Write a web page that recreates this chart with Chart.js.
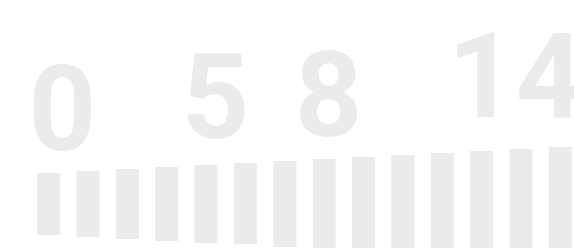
<!DOCTYPE html>
<html>
<head>
<meta charset="utf-8">
<script src="https://cdn.jsdelivr.net/npm/chart.js@4"></script>
<style>
  html, body { margin: 0; padding: 0; background: #fff; overflow: hidden; }
  #wrap { width: 574px; height: 248px; overflow: hidden; }
</style>
</head>
<body>
<div id="wrap"><canvas id="barsChart" width="580" height="248"></canvas></div>
<script>
const categories = ['1', '2', '3', '4', '5', '6', '7', '8', '9', '10', '11', '12', '13', '14'];
const barLow = [5.2, 4.4, 3.6, 2.8, 2.0, 1.6, 0.4, -0.4, -1.2, -2.0, -2.8, -3.6, -4.4, -5.2];
const barHigh = [30.2, 31.0, 31.9, 32.7, 33.5, 34.3, 35.1, 35.9, 36.7, 37.5, 38.3, 39.1, 39.9, 40.7];
const bigLabels = ['0', '5', '8', '14'];

const barData = categories.map((c, i) => [barLow[i], barHigh[i]]);

// big numbers drawn above the bars
const bigNumbers = {
  id: 'bigNumbers',
  afterDatasetsDraw(chart, args, opts) {
    const { ctx, scales: { x, y } } = chart;
    ctx.save();
    ctx.fillStyle = opts.color;
    ctx.font = opts.font;
    ctx.textAlign = 'center';
    ctx.textBaseline = 'alphabetic';
    bigLabels.forEach((t, i) => {
      const p = opts.positions[i];
      ctx.fillText(t, x.getPixelForValue(p[0]), y.getPixelForValue(p[1]));
    });
    ctx.restore();
  }
};

const ctx = document.getElementById('barsChart').getContext('2d');
new Chart(ctx, {
  type: 'bar',
  data: {
    labels: categories,
    datasets: [{
      data: barData,
      backgroundColor: '#ebebeb',
      borderWidth: 0,
      categoryPercentage: 1,
      barPercentage: 0.585
    }]
  },
  options: {
    responsive: false,
    animation: false,
    devicePixelRatio: 1,
    layout: { padding: { left: 29, right: 0, top: 0, bottom: 0 } },
    scales: {
      x: { display: false },
      y: { display: false, min: 0, max: 100 }
    },
    plugins: {
      legend: { display: false },
      tooltip: { enabled: false },
      title: { display: false },
      bigNumbers: {
        color: '#ebebeb',
        font: 'bold 118px Roboto',
        positions: [[0.35, 39.5], [4.24, 44.4], [7.11, 45.2], [11.86, 52.8]]
      }
    }
  },
  plugins: [bigNumbers]
});
</script>
</body>
</html>
